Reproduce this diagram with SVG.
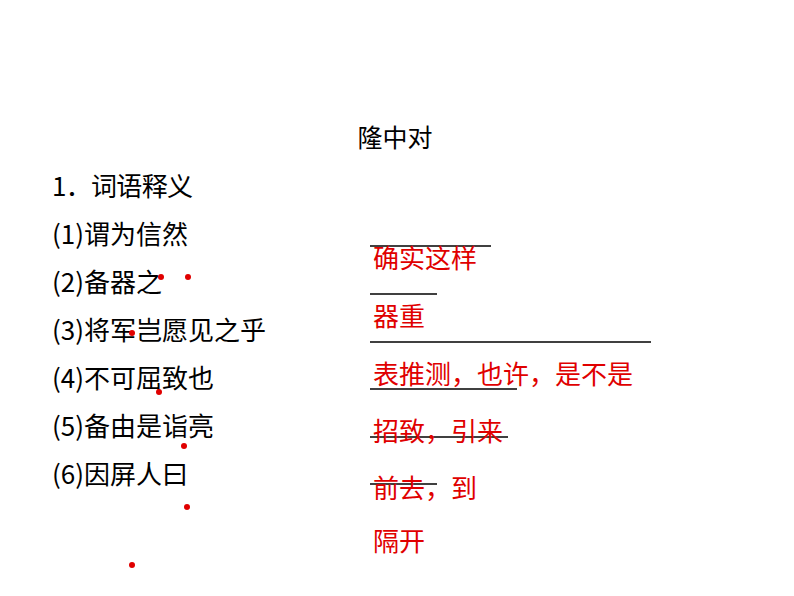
<svg xmlns="http://www.w3.org/2000/svg" width="794" height="596" viewBox="0 0 794 596">
<style>
text{font-family:"Noto Sans CJK SC","Liberation Sans",sans-serif;font-size:26px}
.k{fill:#000}.r{fill:#e00000}
line{stroke:#000;stroke-width:1.3}
circle{fill:#e00000}
</style>
<rect width="794" height="596" fill="#fff"/>
<text class="k" x="395" y="147" text-anchor="middle" style="font-size:25px">隆中对</text>
<g id="items">
<text class="k" x="52" y="196" textLength="141">1．词语释义</text>
<text class="k" x="52" y="244">(1)谓为信然</text>
<text class="k" x="52" y="292">(2)备器之</text>
<text class="k" x="52" y="340">(3)将军岂愿见之乎</text>
<text class="k" x="52" y="388">(4)不可屈致也</text>
<text class="k" x="52" y="436">(5)备由是诣亮</text>
<text class="k" x="52" y="484">(6)因屏人曰</text>
</g>
<g id="dots">
<circle cx="161" cy="277" r="3"/><circle cx="188" cy="277" r="3"/>
<circle cx="132" cy="333" r="3"/><circle cx="159" cy="392" r="3"/>
<circle cx="184" cy="446" r="3"/><circle cx="187" cy="507" r="3"/>
<circle cx="132" cy="565" r="3"/>
</g>
<g id="connectors">
<line x1="370" y1="246" x2="491" y2="246"/>
<line x1="370" y1="294" x2="437" y2="294"/>
<line x1="370" y1="342" x2="651" y2="342"/>
<line x1="370" y1="389" x2="517" y2="389"/>
<line x1="370" y1="437" x2="508" y2="437"/>
<line x1="370" y1="484" x2="437" y2="484"/>
</g>
<g id="answers">
<text class="r" x="373" y="268">确实这样</text>
<text class="r" x="373" y="326">器重</text>
<text class="r" x="373" y="384">表推测，也许，是不是</text>
<text class="r" x="373" y="441">招致，引来</text>
<text class="r" x="373" y="498">前去，到</text>
<text class="r" x="373" y="551">隔开</text>
</g>
</svg>
